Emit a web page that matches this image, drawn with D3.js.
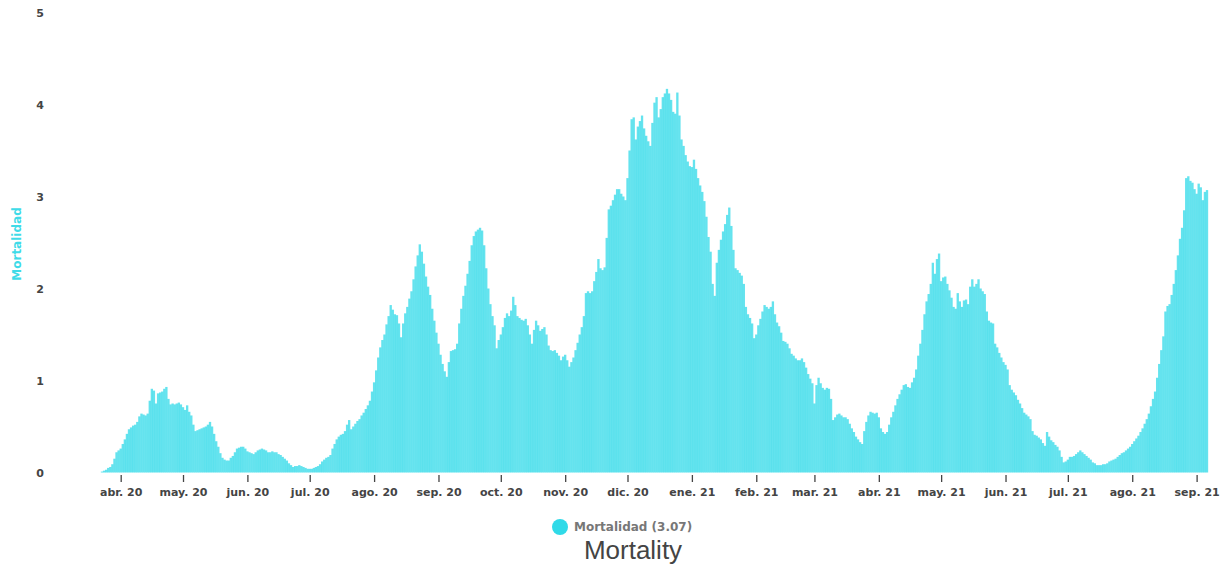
<!DOCTYPE html>
<html>
<head>
<meta charset="utf-8">
<script src="https://cdn.jsdelivr.net/npm/d3@7"></script>
<style>
  body { margin: 0; background: #fff; }
  svg { display: block; }
</style>
</head>
<body>
<div id="chart"></div>
<script>
// --- Data (daily mortality) ---
const startDate = new Date(2020, 2, 23);

const mar20 = [0.01,0.02,0.03,0.05,0.06,0.09,0.15,0.22,0.24];
const abr20 = [0.26,0.31,0.36,0.42,0.47,0.49,0.51,0.52,0.55,0.61,0.64,0.63,0.62,0.64,0.78,0.91,0.89,0.75,0.86,0.87,0.88,0.91,0.93,0.80,0.74,0.75,0.74,0.75,0.76,0.74];
const may20 = [0.71,0.68,0.73,0.66,0.62,0.52,0.45,0.46,0.47,0.48,0.49,0.50,0.52,0.55,0.50,0.42,0.34,0.28,0.21,0.16,0.14,0.13,0.13,0.16,0.18,0.22,0.26,0.27,0.28,0.28,0.26];
const jun20 = [0.23,0.22,0.21,0.20,0.22,0.24,0.25,0.26,0.25,0.24,0.22,0.22,0.23,0.22,0.22,0.20,0.19,0.17,0.15,0.13,0.10,0.08,0.06,0.07,0.07,0.08,0.07,0.06,0.05,0.04];
const jul20 = [0.04,0.04,0.05,0.06,0.07,0.09,0.12,0.14,0.16,0.17,0.19,0.26,0.31,0.36,0.39,0.41,0.42,0.45,0.52,0.57,0.47,0.50,0.53,0.56,0.58,0.62,0.65,0.69,0.73,0.78,0.88];
const ago20 = [0.98,1.11,1.25,1.36,1.44,1.50,1.61,1.70,1.82,1.77,1.72,1.71,1.62,1.47,1.62,1.73,1.80,1.89,1.97,2.10,2.24,2.36,2.48,2.40,2.27,2.13,2.02,1.93,1.78,1.65,1.52];
const sep20 = [1.40,1.28,1.18,1.10,1.04,1.20,1.32,1.33,1.34,1.40,1.62,1.78,1.92,2.03,2.16,2.30,2.47,2.57,2.62,2.64,2.66,2.63,2.47,2.22,2.00,1.83,1.70,1.60,1.35,1.44];
const oct20 = [1.50,1.58,1.68,1.73,1.70,1.76,1.91,1.82,1.70,1.68,1.66,1.65,1.67,1.60,1.50,1.40,1.55,1.65,1.60,1.54,1.56,1.58,1.50,1.38,1.33,1.32,1.33,1.30,1.27,1.22,1.26];
const nov20 = [1.28,1.22,1.15,1.20,1.25,1.33,1.41,1.50,1.58,1.70,1.95,1.97,1.95,1.97,2.08,2.18,2.32,2.22,2.20,2.23,2.55,2.86,2.90,2.96,3.02,3.08,3.08,3.03,3.00,2.96];
const dic20 = [3.20,3.50,3.84,3.86,3.62,3.76,3.82,3.88,3.74,3.66,3.60,3.55,3.80,4.02,4.08,3.86,3.95,4.08,4.12,4.17,4.12,4.05,3.92,3.90,4.13,3.88,3.62,3.55,3.45,3.38,3.33];
const ene21 = [3.32,3.40,3.30,3.20,3.12,3.05,2.95,2.78,2.56,2.40,2.05,1.92,2.28,2.42,2.53,2.62,2.70,2.80,2.88,2.68,2.42,2.22,2.20,2.17,2.14,2.05,1.80,1.72,1.68,1.62,1.46];
const feb21 = [1.50,1.60,1.67,1.75,1.82,1.80,1.78,1.80,1.86,1.72,1.63,1.59,1.52,1.43,1.42,1.40,1.35,1.29,1.27,1.24,1.22,1.22,1.24,1.20,1.14,1.07,1.02,0.97];
const mar21 = [0.75,0.95,1.03,0.97,0.92,0.90,0.92,0.91,0.80,0.57,0.60,0.63,0.64,0.62,0.60,0.60,0.58,0.53,0.48,0.44,0.39,0.36,0.33,0.31,0.45,0.55,0.62,0.66,0.65,0.64,0.65];
const abr21 = [0.60,0.48,0.44,0.42,0.44,0.52,0.60,0.66,0.73,0.80,0.85,0.90,0.95,0.96,0.93,0.92,0.98,1.03,1.12,1.27,1.40,1.55,1.72,1.86,1.94,2.05,2.28,2.16,2.32,2.38];
const may21 = [2.08,2.12,2.13,2.05,1.98,1.90,1.80,1.78,1.95,1.86,1.80,1.87,1.88,1.83,2.02,2.10,2.02,2.05,2.10,2.00,1.97,1.94,1.75,1.65,1.63,1.62,1.40,1.36,1.30,1.25,1.20];
const jun21 = [1.17,1.12,0.95,0.90,0.87,0.84,0.79,0.75,0.70,0.65,0.63,0.61,0.58,0.45,0.41,0.40,0.38,0.36,0.32,0.29,0.44,0.39,0.35,0.33,0.30,0.28,0.24,0.17,0.11,0.12];
const jul21 = [0.14,0.17,0.17,0.18,0.20,0.22,0.24,0.22,0.20,0.18,0.16,0.14,0.11,0.10,0.08,0.08,0.08,0.09,0.09,0.10,0.12,0.13,0.14,0.15,0.17,0.19,0.21,0.22,0.24,0.26,0.28];
const ago21 = [0.31,0.34,0.37,0.40,0.44,0.48,0.53,0.58,0.64,0.72,0.80,0.88,1.03,1.18,1.33,1.48,1.75,1.81,1.83,1.93,2.05,2.20,2.36,2.54,2.66,2.85,3.20,3.22,3.17,3.15,3.08];
const sep21 = [3.03,3.14,3.10,2.96,3.05,3.07];

const tickLabels = ["abr. 20","may. 20","jun. 20","jul. 20","ago. 20","sep. 20","oct. 20","nov. 20","dic. 20",
                    "ene. 21","feb. 21","mar. 21","abr. 21","may. 21","jun. 21","jul. 21","ago. 21","sep. 21"];
const yTicks = [0, 1, 2, 3, 4, 5];

const values = [].concat(mar20, abr20, may20, jun20, jul20, ago20, sep20, oct20, nov20, dic20,
                         ene21, feb21, mar21, abr21, may21, jun21, jul21, ago21, sep21);
const data = values.map((v, i) => ({ date: d3.timeDay.offset(startDate, i), value: v }));
const lastValue = values[values.length - 1];

// --- Setup ---
const width = 1227, height = 565;
const barColor = "#30dae8";
const font = "'DejaVu Sans', Verdana, sans-serif";

const svg = d3.select("#chart").append("svg")
    .attr("width", width)
    .attr("height", height);

const x = d3.scaleTime()
    .domain([startDate, data[data.length - 1].date])
    .range([102, 1207]);

const y = d3.scaleLinear()
    .domain([0, 5])
    .range([472.5, 12.5]);

const step = x(d3.timeDay.offset(startDate, 1)) - x(startDate);
const barW = step * 1.12;

// Bars
svg.append("g")
    .selectAll("rect")
    .data(data)
    .join("rect")
    .attr("x", d => x(d.date) - barW / 2)
    .attr("y", d => y(d.value))
    .attr("width", barW)
    .attr("height", d => y(0) - y(d.value))
    .attr("fill", barColor)
    .attr("fill-opacity", 0.75);

// X axis
const monthTicks = d3.timeMonth.range(new Date(2020, 3, 1), new Date(2021, 8, 2));
const xAxis = svg.append("g")
    .attr("transform", "translate(0,475)")
    .call(d3.axisBottom(x)
        .tickValues(monthTicks)
        .tickSize(7)
        .tickPadding(6)
        .tickFormat((d, i) => tickLabels[i]));
xAxis.select(".domain").remove();
xAxis.selectAll(".tick line").attr("stroke", "#444").attr("stroke-width", 1.3);
xAxis.selectAll(".tick text")
    .attr("fill", "#444")
    .style("font-family", font)
    .style("font-size", "11px")
    .style("font-weight", "bold");

// Y axis
const yAxis = svg.append("g")
    .attr("transform", "translate(46,0)")
    .call(d3.axisLeft(y).tickValues(yTicks).tickSize(0).tickPadding(2).tickFormat(d3.format("d")));
yAxis.select(".domain").remove();
yAxis.selectAll(".tick text")
    .attr("fill", "#444")
    .style("font-family", font)
    .style("font-size", "11px")
    .style("font-weight", "bold");

// Y label
svg.append("text")
    .attr("transform", "translate(21,244) rotate(-90)")
    .attr("text-anchor", "middle")
    .attr("fill", "#3fdbe8")
    .style("font-family", font)
    .style("font-size", "12px")
    .style("font-weight", "bold")
    .text("Mortalidad");

// Legend
const legend = svg.append("g").attr("transform", "translate(560,527)");
legend.append("circle").attr("r", 8).attr("fill", barColor);
legend.append("text")
    .attr("x", 14)
    .attr("dy", "0.35em")
    .attr("fill", "#777")
    .style("font-family", font)
    .style("font-size", "12px")
    .style("font-weight", "bold")
    .text(`Mortalidad (${lastValue.toFixed(2)})`);

// Title
svg.append("text")
    .attr("x", 633)
    .attr("y", 559)
    .attr("text-anchor", "middle")
    .attr("fill", "#444")
    .style("font-family", "'Liberation Sans', Arial, sans-serif")
    .style("font-size", "26px")
    .text("Mortality");
</script>
</body>
</html>
